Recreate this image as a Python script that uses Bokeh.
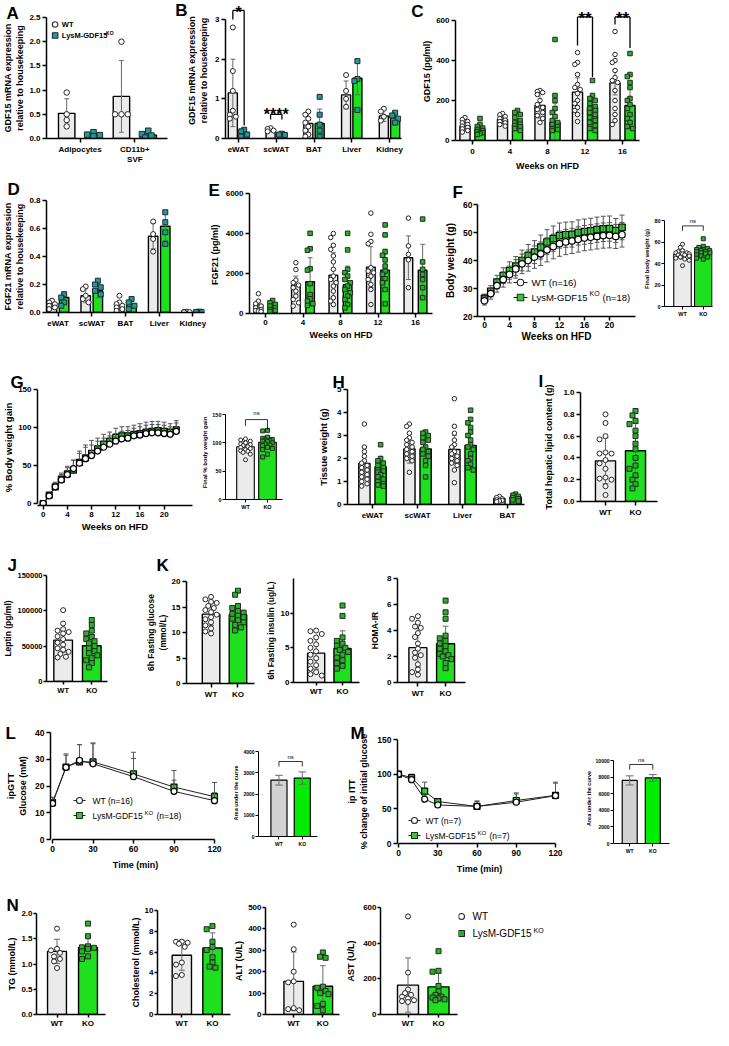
import math
from bokeh.plotting import figure
from bokeh.layouts import row, column
from bokeh.models import Range1d, FixedTicker, Label, Spacer, Title, LinearAxis
from bokeh.embed import file_html
from bokeh.resources import INLINE

# ======================= DATA =======================
# A  GDF15 mRNA (cells)
A_cats = ["Adipocytes", "CD11b+\nSVF"]
A_yticks = [0, 0.5, 1.0, 1.5, 2.0, 2.5]
A_ylabels = ["0.0", "0.5", "1.0", "1.5", "2.0", "2.5"]
A_wt_mean = [0.52, 0.87]
A_wt_sd = [0.30, 0.74]
A_wt_pts = [[0.95, 0.50, 0.38, 0.25], [2.0, 0.50, 0.50, 0.50]]
A_ko_mean = [0.08, 0.07]
A_ko_sd = [0.03, 0.05]
A_ko_pts = [[0.13, 0.08, 0.07, 0.05], [0.16, 0.09, 0.06, 0.02]]

# B  GDF15 mRNA (tissues)
B_cats = ["eWAT", "scWAT", "BAT", "Liver", "Kidney"]
B_yticks = [0, 1, 2, 3]
B_ylabels = ["0", "1", "2", "3"]
B_wt_mean = [1.15, 0.22, 0.38, 1.10, 0.57]
B_wt_sd = [0.85, 0.04, 0.28, 0.35, 0.14]
B_wt_pts = [[2.8, 1.7, 1.2, 0.7, 0.6, 0.55, 0.5], [0.26, 0.24, 0.2, 0.18],
            [0.68, 0.6, 0.5, 0.4, 0.3, 0.2, 0.1, 0.05], [1.6, 1.2, 1.0, 0.8],
            [0.75, 0.68, 0.55, 0.45]]
B_ko_mean = [0.15, 0.10, 0.38, 1.52, 0.52]
B_ko_sd = [0.07, 0.02, 0.36, 0.42, 0.12]
B_ko_pts = [[0.22, 0.18, 0.1, 0.05], [0.12, 0.1, 0.09], [1.05, 0.6, 0.35, 0.2, 0.05],
            [1.95, 1.5, 1.45, 0.72], [0.65, 0.58, 0.5, 0.4]]
B_sig_cat = [0, 1]
B_sig_text = ["*", "****"]
B_sig_top = [3.23, 0.61]
B_sig_wt_end = [3.0, 0.48]
B_sig_ko_end = [0.33, 0.48]
B_sig_text_y = [3.41, 0.83]

# C  GDF15 serum over HFD
C_cats = ["0", "4", "8", "12", "16"]
C_yticks = [0, 200, 400, 600]
C_ylabels = ["0", "200", "400", "600"]
C_wt_mean = [72, 105, 175, 242, 288]
C_wt_sd = [22, 20, 63, 71, 60]
C_wt_pts = [[115, 105, 95, 88, 80, 72, 65, 58, 50, 42],
            [135, 128, 120, 110, 102, 95, 88, 80, 72],
            [250, 245, 240, 230, 200, 180, 165, 155, 140, 125, 110, 90],
            [440, 390, 380, 330, 280, 265, 255, 235, 200, 185, 165, 150, 130, 95],
            [545, 430, 400, 390, 350, 315, 300, 290, 250, 200, 160, 130, 100, 80]]
C_ko_mean = [55, 80, 92, 167, 175]
C_ko_sd = [20, 30, 95, 55, 88]
C_ko_pts = [[110, 80, 70, 62, 55, 50, 45, 40, 35, 30],
            [150, 140, 130, 115, 100, 90, 82, 75, 68, 60, 50],
            [505, 225, 200, 160, 140, 120, 100, 90, 80, 70, 60, 55, 50],
            [300, 225, 210, 200, 185, 170, 160, 150, 140, 130, 115, 100, 90, 75, 60, 50],
            [435, 330, 320, 290, 265, 210, 200, 180, 160, 130, 110, 90, 70, 60]]
C_sig_cat = [3, 4]
C_sig_top = [618, 618]
C_sig_wt_end = [475, 580]
C_sig_ko_end = [318, 463]
C_sig_text_y = [658, 658]

# D  FGF21 mRNA
D_cats = ["eWAT", "scWAT", "BAT", "Liver", "Kidney"]
D_yticks = [0, 0.2, 0.4, 0.6, 0.8]
D_ylabels = ["0.0", "0.2", "0.4", "0.6", "0.8"]
D_wt_mean = [0.043, 0.12, 0.043, 0.545, 0.004]
D_wt_sd = [0.02, 0.05, 0.03, 0.09, 0.002]
D_wt_pts = [[0.084, 0.072, 0.06, 0.048, 0.036, 0.024], [0.186, 0.167, 0.12, 0.096, 0.072],
            [0.12, 0.072, 0.06, 0.048, 0.036, 0.024, 0.012], [0.65, 0.56, 0.525, 0.435],
            [0.006, 0.004, 0.003, 0.002]]
D_ko_mean = [0.107, 0.155, 0.06, 0.616, 0.005]
D_ko_sd = [0.04, 0.05, 0.03, 0.1, 0.002]
D_ko_pts = [[0.13, 0.107, 0.072, 0.048], [0.227, 0.2, 0.18, 0.155, 0.13],
            [0.096, 0.072, 0.048, 0.024], [0.716, 0.645, 0.573, 0.49], [0.006, 0.004, 0.003]]

# E  FGF21 serum
E_cats = ["0", "4", "8", "12", "16"]
E_yticks = [0, 2000, 4000, 6000]
E_ylabels = ["0", "2000", "4000", "6000"]
E_wt_mean = [450, 1420, 1920, 2320, 2790]
E_wt_sd = [180, 450, 1120, 1020, 1090]
E_wt_pts = [[990, 620, 485, 370, 285, 200, 150, 120, 100],
            [2540, 2200, 1670, 1540, 1420, 1290, 1120, 870, 700, 535, 370],
            [4000, 3800, 3410, 3210, 2880, 2580, 2210, 1870, 1700, 1540, 1370, 1120, 790, 620, 450],
            [5020, 3960, 3600, 3490, 2290, 2120, 2040, 1870, 1700, 1450, 1200, 450],
            [4770, 3380, 2960, 2680, 1290]]
E_ko_mean = [370, 1590, 1440, 2170, 2160]
E_ko_sd = [150, 1200, 930, 1050, 1300]
E_ko_pts = [[650, 535, 450, 370, 285, 200, 150, 100],
            [4010, 3240, 3160, 2240, 2170, 1490, 950, 735, 620, 485, 400],
            [4010, 3180, 2210, 2040, 1870, 1700, 1540, 1370, 1200, 1040, 870, 700, 450, 285],
            [4430, 3930, 3080, 2910, 2680, 2370, 2120, 1960, 1740, 1540, 1200, 485],
            [4720, 2580, 2210, 1960, 1700, 1290, 790]]

# F  body weight curve
F_weeks = [0, 1, 2, 3, 4, 5, 6, 7, 8, 9, 10, 11, 12, 13, 14, 15, 16, 17, 18, 19, 20, 21, 22]
F_xticks = [0, 4, 8, 12, 16, 20]
F_xlabels = ["0", "4", "8", "12", "16", "20"]
F_yticks = [20, 30, 40, 50, 60]
F_ylabels = ["20", "30", "40", "50", "60"]
F_wt = [25.6, 28.2, 31.0, 33.2, 35.0, 37.0, 38.8, 40.0, 41.2, 42.4, 43.8, 45.0, 46.0, 46.6,
        47.0, 47.5, 48.0, 48.3, 48.6, 48.9, 49.0, 48.6, 49.2]
F_wt_sd = [1.5, 2.0, 2.3, 2.7, 3.0, 3.3, 3.5, 3.8, 4.0, 4.2, 4.3, 4.4, 4.5, 4.5, 4.5, 4.5,
           4.5, 4.5, 4.5, 4.5, 4.5, 4.3, 4.4]
F_ko = [26.5, 29.0, 32.3, 34.6, 36.4, 38.0, 40.0, 41.8, 43.0, 44.8, 46.6, 47.8, 48.9, 49.2,
        49.3, 50.0, 50.3, 50.6, 51.0, 51.3, 51.4, 50.7, 51.8]
F_ko_sd = [1.5, 2.0, 2.4, 2.8, 3.1, 3.4, 3.7, 3.9, 4.1, 4.3, 4.4, 4.5, 4.5, 4.5, 4.5, 4.5,
           4.5, 4.5, 4.5, 4.5, 4.5, 4.3, 4.4]
# F inset final body weight
Fi_yticks = [0, 20, 40, 60, 80]
Fi_ylabels = ["0", "20", "40", "60", "80"]
Fi_mean = [48.5, 51.5]
Fi_sd = [4.5, 3.8]
Fi_pts = [[58, 55, 52, 51, 50, 50, 49, 49, 48, 48, 47, 46, 45, 44, 43, 38],
          [63, 56, 55, 54, 53, 53, 52, 52, 51, 51, 50, 50, 49, 48, 47, 46, 45, 44]]

# G  % body weight gain
G_weeks = [0, 1, 2, 3, 4, 5, 6, 7, 8, 9, 10, 11, 12, 13, 14, 15, 16, 17, 18, 19, 20, 21, 22]
G_yticks = [0, 50, 100, 150]
G_ylabels = ["0", "50", "100", "150"]
G_wt = [0, 10, 22, 31, 38, 46, 53, 59, 63, 69, 74, 78, 82, 85, 86, 89, 90, 92, 93, 93, 92, 91, 95]
G_wt_sd = [1, 3, 5, 7, 9, 11, 13, 15, 14, 13, 12, 11, 10, 10, 10, 10, 11, 11, 11, 11, 11, 10, 11]
G_ko = [0, 11, 22, 32, 39, 44, 54, 60, 66, 72, 78, 82, 87, 89, 89, 91, 92, 94, 95, 96, 95, 94, 97]
G_ko_sd = [1, 3, 6, 8, 10, 13, 15, 17, 17, 14, 13, 12, 12, 12, 12, 12, 13, 13, 13, 12, 12, 11, 12]
Gi_mean = [93, 101]
Gi_sd = [9, 11]
Gi_pts = [[107, 105, 103, 100, 98, 97, 95, 93, 92, 90, 88, 86, 85, 83, 80, 70],
          [122, 121, 110, 108, 106, 105, 104, 103, 102, 100, 98, 96, 95, 92, 90, 88, 80, 75]]

# H  tissue weights
H_cats = ["eWAT", "scWAT", "Liver", "BAT"]
H_yticks = [0, 1, 2, 3, 4, 5]
H_ylabels = ["0", "1", "2", "3", "4", "5"]
H_wt_mean = [1.78, 2.42, 2.39, 0.26]
H_wt_sd = [0.68, 0.62, 0.61, 0.08]
H_wt_pts = [[3.5, 2.5, 2.3, 2.1, 1.9, 1.8, 1.7, 1.6, 1.5, 1.4, 1.3, 1.2, 1.1, 1.0, 0.9, 0.8],
            [3.5, 3.4, 3.1, 2.9, 2.8, 2.7, 2.6, 2.5, 2.4, 2.3, 2.2, 2.1, 2.0, 1.9, 1.4],
            [4.6, 3.4, 3.1, 2.8, 2.6, 2.5, 2.3, 2.2, 2.1, 2.0, 1.9, 1.8, 1.7, 1.5, 0.95],
            [0.35, 0.3, 0.25, 0.2, 0.18, 0.15, 0.12]]
H_ko_mean = [1.64, 2.42, 2.57, 0.33]
H_ko_sd = [0.45, 0.62, 0.69, 0.1]
H_ko_pts = [[2.6, 2.0, 1.9, 1.8, 1.7, 1.6, 1.5, 1.45, 1.4, 1.3, 1.2, 1.1, 1.0, 0.9, 0.85, 0.8],
            [3.15, 3.1, 3.0, 2.9, 2.8, 2.7, 2.5, 2.4, 2.3, 2.2, 2.1, 1.9, 1.7, 1.2],
            [4.1, 3.7, 3.55, 3.35, 3.15, 3.0, 2.8, 2.6, 2.5, 2.4, 2.2, 2.0, 1.9, 1.75, 1.6, 1.5],
            [0.45, 0.4, 0.35, 0.3, 0.25, 0.2, 0.15]]

# I  hepatic lipid
I_yticks = [0, 0.2, 0.4, 0.6, 0.8, 1.0]
I_ylabels = ["0.0", "0.2", "0.4", "0.6", "0.8", "1.0"]
I_mean = [0.373, 0.465]
I_sd = [0.21, 0.25]
I_pts = [[0.8, 0.72, 0.6, 0.57, 0.45, 0.44, 0.44, 0.38, 0.35, 0.3, 0.22, 0.21, 0.2, 0.14, 0.06],
         [0.83, 0.79, 0.74, 0.71, 0.65, 0.6, 0.53, 0.48, 0.4, 0.33, 0.3, 0.24, 0.2, 0.16, 0.12]]

# J  leptin
J_yticks = [0, 50000, 100000, 150000]
J_ylabels = ["0", "50000", "100000", "150000"]
J_mean = [58600, 50600]
J_sd = [17000, 16000]
J_pts = [[101000, 82000, 74000, 72000, 70000, 68000, 64000, 60000, 55000, 52000, 47000, 45000,
          42000, 39000, 35000, 34000],
         [87000, 80000, 72000, 68000, 63000, 60000, 57000, 54000, 50000, 47000, 43000, 40000,
          37000, 33000, 30000, 26000, 20000]]

# K  glucose, insulin, HOMA-IR
K1_yticks = [0, 5, 10, 15, 20]
K1_mean = [13.6, 13.5]
K1_sd = [2.2, 2.1]
K1_pts = [[17.0, 16.5, 16.0, 15.8, 15.2, 14.8, 14.4, 14.0, 13.5, 13.0, 12.6, 12.0, 11.4, 10.8, 10.2, 9.8],
          [18.2, 17.4, 15.2, 14.8, 14.2, 13.9, 13.6, 13.3, 13.0, 12.7, 12.4, 12.0, 11.5, 11.0, 10.4]]
K2_yticks = [0, 5, 10, 15]
K2_mean = [4.23, 4.9]
K2_sd = [2.3, 2.55]
K2_pts = [[7.5, 7.4, 7.0, 6.5, 6.0, 5.5, 5.0, 4.5, 4.0, 3.5, 3.0, 2.5, 2.0, 1.5, 1.2, 1.0],
          [11.1, 9.6, 6.5, 6.0, 5.6, 5.3, 5.0, 4.7, 4.4, 4.0, 3.6, 3.2, 2.8, 2.4, 2.0]]
K3_yticks = [0, 2, 4, 6, 8]
K3_mean = [2.68, 2.98]
K3_sd = [1.5, 1.35]
K3_pts = [[5.1, 4.9, 4.6, 4.3, 4.2, 3.8, 3.5, 3.0, 2.6, 2.3, 2.1, 1.9, 1.4, 1.0, 0.8, 0.6],
          [6.3, 5.4, 4.9, 3.6, 3.4, 3.2, 3.0, 2.8, 2.6, 2.4, 2.2, 2.1, 2.0, 1.8, 1.5, 1.1]]

# L  ipGTT
L_time = [0, 10, 20, 30, 60, 90, 120]
L_xticks = [0, 30, 60, 90, 120]
L_yticks = [0, 10, 20, 30, 40]
L_wt = [13.5, 27.0, 29.6, 28.3, 23.5, 18.0, 14.5]
L_wt_sd = [1.5, 4.5, 5.8, 7.5, 6.8, 4.2, 3.0]
L_ko = [13.8, 27.1, 29.0, 29.0, 24.5, 19.6, 16.0]
L_ko_sd = [2.0, 4.9, 6.5, 7.1, 8.1, 6.2, 5.3]
Li_yticks = [0, 1000, 2000, 3000, 4000]
Li_mean = [2650, 2750]
Li_sd = [230, 290]

# M  ipITT
M_time = [0, 10, 20, 30, 60, 90, 120]
M_yticks = [0, 50, 100, 150]
M_wt = [100, 92, 64, 55.5, 53.5, 59.5, 69]
M_wt_sd = [1, 3, 6, 4, 7, 12, 18]
M_ko = [100, 95, 75.5, 60.5, 53.5, 62, 69.5]
M_ko_sd = [1, 5, 13, 4, 8, 11, 19]
Mi_yticks = [0, 2000, 4000, 6000, 8000, 10000]
Mi_mean = [7600, 7900]
Mi_sd = [550, 400]

# N  plasma lipids / liver enzymes
N1_yticks = [0, 0.5, 1.0, 1.5, 2.0]
N1_ylabels = ["0.0", "0.5", "1.0", "1.5", "2.0"]
N1_mean = [1.25, 1.33]
N1_sd = [0.24, 0.22]
N1_pts = [[1.7, 1.3, 1.27, 1.22, 1.15, 1.1, 1.05, 0.92],
          [1.8, 1.55, 1.35, 1.33, 1.32, 1.3, 1.25, 1.15, 1.1]]
N2_yticks = [0, 2, 4, 6, 8, 10]
N2_mean = [5.7, 6.4]
N2_sd = [1.45, 1.45]
N2_pts = [[7.0, 7.0, 6.9, 6.8, 6.5, 5.0, 4.8, 3.8, 3.7],
          [8.5, 8.2, 7.0, 6.5, 6.2, 5.5, 5.0, 4.6, 4.5]]
N3_yticks = [0, 100, 200, 300, 400, 500]
N3_mean = [155, 132]
N3_sd = [137, 96]
N3_pts = [[420, 305, 200, 155, 150, 30, 25, 20],
          [290, 270, 265, 130, 125, 110, 100, 95, 50, 40, 20]]
N4_yticks = [0, 200, 400, 600]
N4_mean = [165, 155]
N4_sd = [152, 80]
N4_pts = [[550, 235, 140, 120, 110, 100, 90, 80, 75, 70],
          [355, 245, 240, 160, 130, 110, 100, 95, 90, 85, 80]]

GROUPS = ["WT", "KO"]

# ======================= STYLE =======================
FONT = "Liberation Sans"
WT_FILL = "#ebebeb"
KO_FILL = "#1fe01f"
KO_PT = "#22b522"
KO_LINE_PT = "#2ad42a"
TEAL = "#1c9c9c"
ERR = "#6a6a6a"
PT_LINE = "#262626"
AUC_WT = "#d2d2d2"
AUC_KO = "#00ec00"


class Pan:
    def __init__(self, box, frame, xa, ya, axes=True):
        x0, x1, y0, y1 = box
        L, R, T, B = frame
        self.L, self.R, self.T, self.B, self.y0 = L, R, T, B, y0
        self.xa, self.ya = xa, ya
        self.sx = (xa[3] - xa[1]) / (xa[2] - xa[0])
        self.sy = (ya[3] - ya[1]) / (ya[2] - ya[0])
        kw = {}
        if not axes:
            kw = dict(x_axis_type=None, y_axis_type=None)
        self.p = figure(width=x1 - x0, height=y1 - y0,
                        x_range=Range1d(self.X(L), self.X(R)),
                        y_range=Range1d(self.Y(B), self.Y(T)),
                        min_border_left=L - x0, min_border_right=x1 - R,
                        min_border_top=T - y0, min_border_bottom=y1 - B,
                        output_backend="svg", toolbar_location=None, tools="", **kw)
        p = self.p
        p.frame_align = False
        p.title.visible = False
        p.outline_line_color = None
        p.background_fill_color = "white"
        p.border_fill_color = "white"
        if axes:
            p.xgrid.visible = False
            p.ygrid.visible = False

    def X(self, px):
        return self.xa[1] + (px - self.xa[0]) * self.sx

    def Y(self, py):
        return self.ya[1] + (py - self.ya[0]) * self.sy

    def dx(self, n):
        return n * abs(self.sx)

    def dy(self, n):
        return n * abs(self.sy)


def style_axes(pan, xticks, xlabels, yticks, ylabels, tfs, xlab, ylab, lfs,
               ybounds=None, xbounds=None, xst=2, yst=2, lw=1.5, tl=4, tstand=2, xtstand=None):
    p = pan.p
    ax, ay = p.xaxis[0], p.yaxis[0]
    ax.ticker = FixedTicker(ticks=list(xticks))
    ax.major_label_overrides = {t: l for t, l in zip(xticks, xlabels)}
    ay.ticker = FixedTicker(ticks=list(yticks))
    ay.major_label_overrides = {t: l for t, l in zip(yticks, ylabels)}
    if ybounds is not None:
        ay.bounds = ybounds
    if xbounds is not None:
        ax.bounds = xbounds
    for a in (ax, ay):
        a.axis_line_width = lw
        a.axis_line_color = "black"
        a.major_tick_line_width = lw
        a.major_tick_line_color = "black"
        a.major_tick_out = int(tl)
        a.major_tick_in = 0
        a.minor_tick_line_color = None
        a.major_label_text_font = FONT
        a.major_label_text_font_style = "bold"
        a.major_label_text_font_size = f"{tfs}px"
        a.major_label_text_color = "black"
        a.major_label_standoff = int(tstand)
        a.axis_label_text_font = FONT
        a.axis_label_text_font_style = "bold"
        a.axis_label_text_font_size = f"{lfs}px"
        a.axis_label_text_color = "black"
    if xtstand is not None:
        ax.major_label_standoff = int(xtstand)
    if xlab:
        ax.axis_label = xlab
    if ylab:
        ay.axis_label = ylab
    ax.axis_label_standoff = int(xst)
    ay.axis_label_standoff = int(yst)


def swarm(vals, kpx, size, maxoff):
    step = size * 0.6
    cands = [0.0]
    k = 1
    while k * step <= maxoff + 1e-9:
        cands += [-k * step, k * step]
        k += 1
    placed, offs = [], []
    for v in vals:
        y = v * kpx
        best, bc = 0.0, None
        for c in cands:
            cost = 0.0
            for ox, oy in placed:
                d = math.hypot(c - ox, y - oy)
                if d < size * 0.95:
                    cost += size * 0.95 - d
            if cost == 0:
                best = c
                break
            if bc is None or cost < bc:
                best, bc = c, cost
        placed.append((best, y))
        offs.append(best)
    return offs


def bar_group(pan, x, mean, sd, pts, w, fill, marker, pfill, psize, lw=1.4, cap_px=3,
              spread=0.8, err=ERR, elw=1.0):
    p = pan.p
    p.vbar(x=[x], top=[mean], bottom=0, width=w, fill_color=fill, line_color="black", line_width=lw)
    hi, lo = mean + sd, max(mean - sd, 0)
    cw = pan.dx(cap_px)
    p.segment(x0=[x, x - cw, x - cw], y0=[lo, hi, lo], x1=[x, x + cw, x + cw], y1=[hi, hi, lo],
              line_color=err, line_width=elw)
    if pts:
        maxoff = (w / abs(pan.sx)) / 2 * spread
        offs = swarm(pts, 1 / abs(pan.sy), psize, maxoff)
        xs = [x + pan.dx(o) for o in offs]
        p.scatter(x=xs, y=pts, marker=marker, size=psize, fill_color=pfill,
                  line_color=PT_LINE, line_width=1)


def grouped(pan, wm, ws, wp, km, ks, kp, off, w, kpfill, psize, cap=2.5):
    for i in range(len(wm)):
        bar_group(pan, i - off, wm[i], ws[i], wp[i], w, WT_FILL, "circle", "white", psize, cap_px=cap)
        bar_group(pan, i + off, km[i], ks[i], kp[i], w, KO_FILL, "square", kpfill, psize, cap_px=cap)


def two_bar(pan, means, sds, pts, w, psize, fills=(WT_FILL, KO_FILL), lw=1.4, cap=3):
    markers = ["circle", "square"]
    pf = ["white", KO_PT]
    for i in range(2):
        bar_group(pan, i, means[i], sds[i], pts[i] if pts else None, w, fills[i], markers[i], pf[i],
                  psize, lw=lw, cap_px=cap)


def series(pan, xs, ys, sd, marker, fill, size, both, cap_px=2.5):
    p = pan.p
    cw = pan.dx(cap_px)
    hi = [y + s for y, s in zip(ys, sd)]
    lo = [y - s for y, s in zip(ys, sd)] if both else list(ys)
    p.segment(x0=xs, y0=lo, x1=xs, y1=hi, line_color="#555555", line_width=1)
    p.segment(x0=[x - cw for x in xs], y0=hi, x1=[x + cw for x in xs], y1=hi, line_color="#555555", line_width=1)
    if both:
        p.segment(x0=[x - cw for x in xs], y0=lo, x1=[x + cw for x in xs], y1=lo, line_color="#555555", line_width=1)
    p.line(x=xs, y=ys, line_color="#222222", line_width=1)
    p.scatter(x=xs, y=ys, marker=marker, size=size, fill_color=fill, line_color="black", line_width=1.2)


def label(pan, x, y, s, fs, bold=False, align="left", baseline="middle"):
    pan.p.add_layout(Label(x=x, y=y, text=s, text_font=FONT, text_font_size=f"{fs}px",
                           text_font_style="bold" if bold else "normal", text_align=align,
                           text_baseline=baseline, text_color="black"))


def letter(pan, xp, yp, s, fs=17):
    """Panel letter drawn as a title in the top border (cap top near yp, left edge at xp)."""
    so = int(round(2 * (pan.T - (yp + 6) - 0.928 * fs)))
    max_so = int(math.floor((pan.T - pan.y0) - 3 - 1.15 * fs))
    so = min(so, max_so)
    t = Title(text=s, align="left", offset=xp + 3 - pan.L, standoff=so, text_font=FONT,
              text_font_size=f"{fs}px", text_font_style="bold", text_color="black")
    pan.p.add_layout(t, "above")


def side_letter(pan, s, yc_px, fs=17, stand=0):
    """Panel letter drawn as a single tick label of an extra left axis."""
    yv = round(pan.Y(yc_px), 5)
    ax = LinearAxis(ticker=FixedTicker(ticks=[yv]), major_label_overrides={yv: s})
    ax.axis_line_color = None
    ax.major_tick_line_color = None
    ax.minor_tick_line_color = None
    ax.major_tick_out = 0
    ax.major_tick_in = 0
    ax.major_label_standoff = stand
    ax.major_label_text_font = FONT
    ax.major_label_text_font_style = "bold"
    ax.major_label_text_font_size = f"{fs}px"
    ax.major_label_text_color = "black"
    pan.p.add_layout(ax, "left")


def sig(pan, xl, xr, top, yl, yr, text, fs, tcenter, lw=1.3, glyph=0.575, bold=True):
    pan.p.segment(x0=[xl, xl, xr], y0=[yl, top, top], x1=[xl, xr, xr], y1=[top, top, yr],
                  line_color="black", line_width=lw)
    label(pan, (xl + xr) / 2, tcenter - pan.dy(glyph * fs), text, fs, bold=bold,
          align="center", baseline="alphabetic")


def legend_row(pan, sxp, yp, marker, fill, size, pieces, line_half=0, bold=False):
    p = pan.p
    y = pan.Y(yp)
    if line_half:
        p.segment(x0=[pan.X(sxp - line_half)], y0=[y], x1=[pan.X(sxp + line_half)], y1=[y],
                  line_color="#222222", line_width=1)
    p.scatter(x=[pan.X(sxp)], y=[y], marker=marker, size=size, fill_color=fill,
              line_color=PT_LINE, line_width=1.1)
    for xp, s, fs, dyp in pieces:
        label(pan, pan.X(xp), pan.Y(yp + dyp), s, fs, bold=bold)


def ticklabels(vals):
    return [str(v) for v in vals]


# ======================= ROW 1 =======================
pA = Pan((8, 180, 8, 182), (49, 175, 25, 146), (84, 0, 141, 1), (146, 0, 25, 2.5))
style_axes(pA, range(len(A_cats)), A_cats, A_yticks, A_ylabels, 8, None,
           "GDF15 mRNA expression\nrelative to housekeeping", 9, yst=1)
grouped(pA, A_wt_mean, A_wt_sd, A_wt_pts, A_ko_mean, A_ko_sd, A_ko_pts, 0.245, 0.3, TEAL, 5.5)
legend_row(pA, 58, 32, "circle", "white", 5.5, [(65, "WT", 7.5, 0)], bold=True)
legend_row(pA, 58, 43, "square", TEAL, 5.5, [(65, "LysM-GDF15", 7.5, 0), (111, "KO", 5, -3)], bold=True)
letter(pA, 6, 8, "A")

pB = Pan((180, 412, 8, 182), (233, 409, 10, 146), (246, 0, 397, 4), (146, 0, 27, 3))
style_axes(pB, range(len(B_cats)), B_cats, B_yticks, B_ylabels, 8, None,
           "GDF15 mRNA expression\nrelative to housekeeping", 9, ybounds=(0, 3), yst=3)
grouped(pB, B_wt_mean, B_wt_sd, B_wt_pts, B_ko_mean, B_ko_sd, B_ko_pts, 0.15, 0.24, TEAL, 5)
for i in range(len(B_sig_cat)):
    c = B_sig_cat[i]
    sig(pB, c - 0.15, c + 0.15, B_sig_top[i], B_sig_wt_end[i], B_sig_ko_end[i], B_sig_text[i], 16,
        B_sig_text_y[i])
side_letter(pB, "B", 17, stand=-3)

pC = Pan((412, 721, 8, 182), (463, 647, 10, 148), (480, 0, 630, 4), (148, 0, 28, 600))
style_axes(pC, range(len(C_cats)), C_cats, C_yticks, C_ylabels, 8, "Weeks on HFD", "GDF15 (pg/ml)", 9,
           ybounds=(0, 600), yst=1, xst=4, xtstand=4)
grouped(pC, C_wt_mean, C_wt_sd, C_wt_pts, C_ko_mean, C_ko_sd, C_ko_pts, 0.2, 0.27, KO_PT, 4.5)
for i in range(len(C_sig_cat)):
    c = C_sig_cat[i]
    sig(pC, c - 0.2, c + 0.2, C_sig_top[i], C_sig_wt_end[i], C_sig_ko_end[i], "**", 17, C_sig_text_y[i])
side_letter(pC, "C", 16, stand=-4)

# ======================= ROW 2 =======================
pD = Pan((8, 214, 182, 352), (48, 212, 208, 320), (60, 0, 200, 4), (320, 0, 208, 0.8))
style_axes(pD, range(len(D_cats)), D_cats, D_yticks, D_ylabels, 8, None,
           "FGF21 mRNA expression\nrelative to housekeeping", 9, yst=1)
grouped(pD, D_wt_mean, D_wt_sd, D_wt_pts, D_ko_mean, D_ko_sd, D_ko_pts, 0.18, 0.28, TEAL, 5)
letter(pD, 6, 183, "D")

pE = Pan((214, 447, 182, 352), (257, 440, 201, 321), (273, 0, 423, 4), (321, 0, 201, 6000))
style_axes(pE, range(len(E_cats)), E_cats, E_yticks, E_ylabels, 8, "Weeks on HFD", "FGF21  (pg/ml)", 9,
           yst=3, xst=2)
grouped(pE, E_wt_mean, E_wt_sd, E_wt_pts, E_ko_mean, E_ko_sd, E_ko_pts, 0.19, 0.23, KO_PT, 4.5)
letter(pE, 213, 185, "E")

pF = Pan((447, 649, 182, 352), (485, 643, 212, 324), (492, 0, 617, 20), (324, 20, 212, 60))
style_axes(pF, F_xticks, F_xlabels, F_yticks, F_ylabels, 8.5, "Weeks on HFD", "Body weight (g)", 10,
           yst=4, xst=0, tstand=1)
series(pF, F_weeks, F_ko, F_ko_sd, "square", KO_LINE_PT, 6.5, True)
series(pF, F_weeks, F_wt, F_wt_sd, "circle", "white", 6.5, True)
legend_row(pF, 528, 290, "circle", "white", 6.5, [(539, "WT (n=16)", 9.5, 0)], line_half=7)
legend_row(pF, 528, 305, "square", KO_LINE_PT, 6.5,
           [(539, "LysM-GDF15", 9.5, 0), (597, "KO", 7, -4), (610, "(n=18)", 9.5, 0)], line_half=7)
letter(pF, 457, 187, "F")

pFi = Pan((649, 721, 182, 352), (668, 720, 219, 314), (687.5, 0, 710, 1), (314, 0, 228, 80))
style_axes(pFi, [0, 1], GROUPS, Fi_yticks, Fi_ylabels, 5.5, None, "Final body weight (g)", 6,
           ybounds=(0, 80), yst=1, lw=1, tl=3, tstand=1)
two_bar(pFi, Fi_mean, Fi_sd, Fi_pts, 0.84, 4, lw=1.1, cap=3)
sig(pFi, 0, 1, 75, 70.5, 70.5, "ns", 6, 81, lw=0.8, glyph=0.26, bold=False)

# ======================= ROW 3 =======================
pG = Pan((8, 205, 352, 542), (36, 200, 397, 513), (42, 0, 170, 20), (511, 0, 397, 150))
style_axes(pG, F_xticks, F_xlabels, G_yticks, G_ylabels, 8, "Weeks on HFD", "% Body weight gain", 9.5,
           ybounds=(0, 150), yst=1, xst=1)
series(pG, G_weeks, G_ko, G_ko_sd, "square", KO_LINE_PT, 6, False)
series(pG, G_weeks, G_wt, G_wt_sd, "circle", "white", 6, False)
letter(pG, 6, 377, "G")

pGi = Pan((205, 300, 352, 542), (233, 290, 413, 507), (253, 0, 275, 1), (507, 0, 422, 150))
style_axes(pGi, [0, 1], GROUPS, G_yticks, G_ylabels, 5.5, None, "Final % body weight gain", 6,
           ybounds=(0, 150), yst=1, lw=1, tl=3, tstand=1)
two_bar(pGi, Gi_mean, Gi_sd, Gi_pts, 0.8, 4, lw=1.1, cap=3)
sig(pGi, 0, 1, 141, 130, 123, "ns", 6, 155, lw=0.8, glyph=0.26, bold=False)

pH = Pan((300, 535, 352, 542), (355, 532, 397, 512), (380, 0, 515, 3), (512, 0, 397, 5))
style_axes(pH, range(len(H_cats)), H_cats, H_yticks, H_ylabels, 8, None, "Tissue weight (g)", 9.5, yst=5)
grouped(pH, H_wt_mean, H_wt_sd, H_wt_pts, H_ko_mean, H_ko_sd, H_ko_pts, 0.18, 0.25, KO_PT, 4.5)
letter(pH, 337, 377, "H")

pI = Pan((535, 721, 352, 542), (588, 665, 400, 509), (613, 0, 643, 1), (509, 0, 400, 1.0))
style_axes(pI, [0, 1], GROUPS, I_yticks, I_ylabels, 8, None, "Total hepatic lipid content (g)", 9, yst=6)
two_bar(pI, I_mean, I_sd, I_pts, 0.67, 5)
letter(pI, 543, 376, "I")

# ======================= ROW 4 =======================
pJ = Pan((8, 150, 542, 710), (49, 115, 583, 689), (67, 0, 98, 1), (689, 0, 583, 150000))
style_axes(pJ, [0, 1], GROUPS, J_yticks, J_ylabels, 7.5, None, "Leptin (pg/ml)", 8.5, yst=1, tl=3, tstand=1)
two_bar(pJ, J_mean, J_sd, J_pts, 0.65, 5)
letter(pJ, 7, 560, "J")

pK1 = Pan((150, 270, 542, 710), (190, 262, 589, 691), (216, 0, 244.5, 1), (691, 0, 589, 20))
style_axes(pK1, [0, 1], GROUPS, K1_yticks, ticklabels(K1_yticks), 8, None, "6h Fasting glucose\n(mmol/L)",
           8.5, yst=1)
two_bar(pK1, K1_mean, K1_sd, K1_pts, 0.65, 5)
letter(pK1, 157, 560, "K")

pK2 = Pan((270, 375, 542, 710), (297, 367, 586, 690), (321, 0, 349, 1), (690, 0, 586, 15))
style_axes(pK2, [0, 1], GROUPS, K2_yticks, ticklabels(K2_yticks), 8, None, "6h Fasting insulin (ug/L)",
           8.5, yst=2, tl=3, tstand=1)
two_bar(pK2, K2_mean, K2_sd, K2_pts, 0.65, 5)

pK3 = Pan((375, 480, 542, 710), (403, 473, 586, 690), (424, 0, 452.5, 1), (690, 0, 586, 8))
style_axes(pK3, [0, 1], GROUPS, K3_yticks, ticklabels(K3_yticks), 8, None, "HOMA-IR", 8.5, yst=4)
two_bar(pK3, K3_mean, K3_sd, K3_pts, 0.65, 5)

# ======================= ROW 5 =======================
pL = Pan((8, 238, 710, 885), (58, 228, 740, 847), (60, 0, 222, 120), (847, 0, 740, 40))
style_axes(pL, L_xticks, ticklabels(L_xticks), L_yticks, ticklabels(L_yticks), 8.5, "Time (min)",
           "ipGTT\nGlucose (mM)", 9, xbounds=(0, 120), yst=4, xst=5)
series(pL, L_time, L_ko, L_ko_sd, "square", KO_LINE_PT, 6, False)
series(pL, L_time, L_wt, L_wt_sd, "circle", "white", 6, False)
legend_row(pL, 87, 808, "circle", "white", 6, [(100, "WT (n=16)", 8.5, 0)], line_half=6)
legend_row(pL, 87, 823, "square", KO_LINE_PT, 6,
           [(100, "LysM-GDF15", 8.5, 0), (152, "KO", 6, -3), (164, "(n=18)", 8.5, 0)], line_half=6)
letter(pL, 10, 728, "L")

pLi = Pan((238, 340, 710, 885), (263, 325, 757, 844), (284.5, 0, 309, 1), (844, 0, 759, 4000))
style_axes(pLi, [0, 1], GROUPS, Li_yticks, ticklabels(Li_yticks), 5, None, "Area under the curve", 5.5,
           ybounds=(0, 4000), yst=1, lw=1, tl=3, tstand=1)
two_bar(pLi, Li_mean, Li_sd, None, 0.69, 4, fills=(AUC_WT, AUC_KO), lw=1.2, cap=4)
sig(pLi, 0, 1, 3530, 3294, 3294, "ns", 6, 3800, lw=0.8, glyph=0.26, bold=False)

pM = Pan((340, 590, 710, 885), (405, 569, 747, 851), (406, 0, 563, 120), (851, 0, 747, 150))
style_axes(pM, L_xticks, ticklabels(L_xticks), M_yticks, ticklabels(M_yticks), 8.5, "Time (min)",
           "ip ITT\n% change of initial glucose", 9, xbounds=(0, 120), yst=5, xst=5)
series(pM, M_time, M_ko, M_ko_sd, "square", KO_LINE_PT, 6, False)
series(pM, M_time, M_wt, M_wt_sd, "circle", "white", 6, False)
legend_row(pM, 422, 828, "circle", "white", 6, [(433, "WT (n=7)", 8.5, 0)], line_half=6)
legend_row(pM, 422, 843, "square", KO_LINE_PT, 6,
           [(433, "LysM-GDF15", 8.5, 0), (485, "KO", 6, -3), (497, "(n=7)", 8.5, 0)], line_half=6)
letter(pM, 355, 728, "M")

pMi = Pan((590, 700, 710, 885), (620, 677, 761, 851), (636.5, 0, 660, 1), (851, 0, 768, 10000))
style_axes(pMi, [0, 1], GROUPS, Mi_yticks, ticklabels(Mi_yticks), 5, None, "Area under the curve", 5.5,
           ybounds=(0, 10000), yst=1, lw=1, tl=3, tstand=1)
two_bar(pMi, Mi_mean, Mi_sd, None, 0.65, 4, fills=(AUC_WT, AUC_KO), lw=1.2, cap=4)
sig(pMi, 0, 1, 9520, 8900, 8900, "ns", 6, 10250, lw=0.8, glyph=0.26, bold=False)

# ======================= ROW 6 =======================
pN1 = Pan((8, 135, 885, 1038), (44, 113, 921, 1026), (64.5, 0, 95.5, 1), (1026, 0, 921, 2.0))
style_axes(pN1, [0, 1], GROUPS, N1_yticks, N1_ylabels, 8, None, "TG (mmol/L)", 9, yst=1, tl=3, tstand=1)
two_bar(pN1, N1_mean, N1_sd, N1_pts, 0.61, 5)
letter(pN1, 11, 900, "N")

pN2 = Pan((135, 239, 885, 1038), (163, 238, 918, 1026), (188, 0, 219.5, 1), (1026, 0, 918, 10))
style_axes(pN2, [0, 1], GROUPS, N2_yticks, ticklabels(N2_yticks), 8, None, "Cholesterol (mmol/L)", 9,
           yst=1, tl=3, tstand=1)
two_bar(pN2, N2_mean, N2_sd, N2_pts, 0.63, 5)

pN3 = Pan((239, 348, 885, 1038), (267, 347, 915, 1026), (297.5, 0, 329, 1), (1026, 0, 915, 500))
style_axes(pN3, [0, 1], GROUPS, N3_yticks, ticklabels(N3_yticks), 8, None, "ALT (U/L)", 9,
           yst=1, tl=3, tstand=1)
two_bar(pN3, N3_mean, N3_sd, N3_pts, 0.67, 5)

pN4 = Pan((348, 466, 885, 1038), (388, 465, 915, 1026), (415.5, 0, 446, 1), (1026, 0, 915, 600))
style_axes(pN4, [0, 1], GROUPS, N4_yticks, ticklabels(N4_yticks), 8, None, "AST (U/L)", 9,
           yst=4, tl=3, tstand=1)
two_bar(pN4, N4_mean, N4_sd, N4_pts, 0.69, 5)

pNL = Pan((466, 721, 885, 1038), (466, 721, 885, 1038), (466, 466, 721, 721), (1038, 1038, 885, 885),
          axes=False)
legend_row(pNL, 469, 924, "circle", "white", 6, [(480, "WT", 10, 0)])
legend_row(pNL, 469, 941, "square", KO_PT, 6, [(480, "LysM-GDF15", 10, 0), (541, "KO", 7, -3)])

# ======================= LAYOUT =======================
r1 = row(pA.p, pB.p, pC.p)
r2 = row(pD.p, pE.p, pF.p, pFi.p)
r3 = row(pG.p, pGi.p, pH.p, pI.p)
r4 = row(pJ.p, pK1.p, pK2.p, pK3.p, Spacer(width=241, height=168))
r5 = row(pL.p, pLi.p, pM.p, pMi.p, Spacer(width=21, height=175))
r6 = row(pN1.p, pN2.p, pN3.p, pN4.p, pNL.p)
page = column(r1, r2, r3, r4, r5, r6)

open("out.html", "w").write(file_html(page, INLINE, "GDF15 figure"))
